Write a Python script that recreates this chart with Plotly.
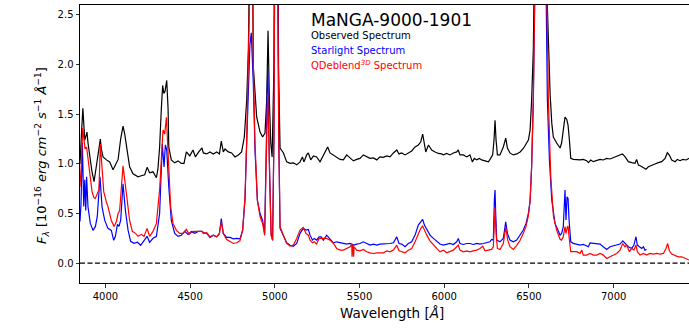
import plotly.graph_objects as go

# ---------------- data ----------------
wl_obs = [3850,3854,3860,3867,3872,3878,3885,3891,3898,3907,3920,3933,3946,3958,3970,3976,3986,4006,4025,4045,
          4059,4075,4090,4104,4114,4124,4143,4163,4193,4212,4232,4246,4261,4281,4301,4310,4320,4330,4338,4345,
          4352,4362,4370,4374,4389,4409,4429,4448,4464,4478,4498,4517,4531,4551,4570,4578,4598,4617,4637,4657,
          4673,4684,4696,4706,4726,4745,4765,4785,4804,4820,4834,4844,4853,4861,4869,4873,4893,4913,4928,4942,
          4952,4960,4968,4976,4984,4995,5007,5016,5022,5031,5051,5070,5090,5110,5129,5149,5163,5172,5188,5198,
          5212,5228,5247,5267,5287,5300,5312,5326,5346,5365,5385,5405,5424,5444,5464,5483,5503,5523,5542,5562,
          5582,5602,5621,5641,5661,5680,5700,5720,5733,5749,5769,5788,5808,5828,5847,5861,5873,5881,5891,5907,
          5926,5946,5966,5985,5995,6015,6034,6054,6074,6083,6093,6113,6133,6152,6166,6178,6192,6207,6221,6241,
          6261,6274,6286,6294,6300,6306,6314,6329,6349,6363,6373,6388,6408,6428,6448,6467,6487,6497,6507,6516,
          6526,6536,6570,6605,6615,6625,6635,6644,6664,6684,6693,6703,6713,6723,6731,6739,6747,6762,6782,6802,
          6821,6841,6851,6865,6880,6900,6920,6939,6959,6979,6998,7018,7038,7052,7067,7087,7107,7126,7136,7146,
          7160,7176,7191,7205,7225,7244,7264,7284,7304,7317,7329,7343,7363,7376,7392,7408,7428,7445]
flux_obs = [1.00,1.10,1.35,1.56,1.40,1.24,1.28,1.32,1.20,1.07,0.93,0.82,0.97,1.12,1.25,1.15,1.07,1.04,1.02,0.94,
            0.99,1.045,1.25,1.38,1.30,1.17,0.97,0.90,0.87,0.88,0.89,0.965,0.91,0.92,0.86,0.95,1.17,1.55,1.79,1.71,
            1.73,1.84,1.55,1.17,1.04,1.01,1.03,1.005,1.005,1.12,1.08,1.14,1.07,1.12,1.16,1.11,1.10,1.12,1.10,1.12,
            1.10,1.23,1.12,1.15,1.12,1.11,1.07,1.09,1.12,1.27,1.64,2.15,3.0,4.5,3.0,1.98,1.47,1.32,1.27,1.31,
            1.64,2.34,1.64,1.21,1.07,1.98,7.0,4.0,1.98,1.16,1.11,1.02,1.005,1.01,0.99,1.02,1.07,1.02,1.09,1.11,
            1.04,1.08,1.07,1.02,1.09,1.12,1.17,1.11,1.09,1.07,1.045,1.04,1.09,1.06,1.03,1.045,1.055,1.09,1.07,1.055,
            1.06,1.04,1.07,1.065,1.08,1.07,1.11,1.14,1.10,1.11,1.09,1.11,1.13,1.17,1.19,1.22,1.30,1.22,1.12,1.19,
            1.14,1.12,1.105,1.10,1.09,1.105,1.09,1.11,1.12,1.14,1.09,1.09,1.07,1.09,1.02,1.055,1.04,1.055,1.04,1.03,
            1.02,1.055,1.09,1.24,1.44,1.24,1.09,1.09,1.17,1.26,1.16,1.11,1.09,1.10,1.12,1.155,1.21,1.24,1.34,1.64,
            2.15,2.8,8.0,2.8,2.15,1.71,1.41,1.27,1.21,1.16,1.21,1.34,1.47,1.45,1.39,1.24,1.055,1.045,1.04,1.04,
            1.045,1.032,1.012,1.039,1.022,1.032,1.045,1.039,1.055,1.049,1.062,1.072,1.089,1.099,1.072,1.022,1.012,1.005,1.045,0.988,
            0.978,0.965,0.945,0.971,0.988,0.998,1.012,1.022,1.055,1.112,1.089,1.039,1.022,1.045,1.032,1.045,1.039,1.055]

wl_starlight = [3850,3856,3864,3872,3878,3884,3889,3897,3911,3927,3941,3952,3968,3980,3996,4015,4035,4049,4059,4071,
                4080,4090,4104,4118,4134,4149,4169,4189,4208,4228,4246,4261,4281,4301,4320,4336,4346,4354,4362,4374,
                4389,4409,4429,4448,4468,4488,4507,4527,4547,4570,4578,4598,4617,4637,4657,4673,4684,4696,4716,4736,
                4755,4775,4794,4810,4824,4834,4844,4853,4861,4868,4873,4883,4897,4913,4928,4940,4948,4958,4968,4978,
                4987,4995,5007,5016,5023,5031,5050,5070,5090,5109,5129,5149,5168,5184,5198,5208,5222,5233,5247,5261,
                5273,5287,5306,5316,5326,5346,5365,5385,5405,5424,5444,5460,5468,5483,5503,5523,5542,5562,5582,5602,
                5621,5641,5661,5680,5700,5720,5733,5749,5769,5788,5808,5828,5847,5861,5873,5883,5897,5916,5936,5956,
                5975,5995,6015,6034,6054,6074,6083,6093,6113,6133,6152,6172,6192,6211,6231,6251,6270,6280,6290,6296,
                6300,6304,6310,6329,6349,6363,6373,6388,6408,6428,6448,6467,6483,6497,6507,6516,6526,6536,6570,6601,
                6609,6621,6635,6654,6674,6684,6693,6703,6713,6719,6725,6731,6737,6747,6762,6782,6802,6821,6841,6851,
                6861,6880,6900,6920,6939,6959,6979,6998,7018,7038,7054,7067,7087,7107,7120,7132,7140,7152,7166,7176,
                7185,7195]
flux_starlight = [0.42,0.60,1.21,0.57,0.84,0.53,0.87,0.57,0.40,0.33,0.37,0.47,0.87,0.57,0.43,0.35,0.33,0.23,0.27,0.39,
                  0.37,0.43,0.80,0.53,0.33,0.22,0.20,0.21,0.18,0.23,0.27,0.21,0.25,0.27,0.50,1.20,0.97,1.19,1.14,0.77,
                  0.43,0.30,0.27,0.28,0.32,0.29,0.32,0.30,0.32,0.32,0.309,0.299,0.259,0.282,0.265,0.299,0.45,0.299,0.259,0.259,
                  0.245,0.249,0.245,0.33,0.635,1.21,1.81,2.2,2.32,2.0,1.81,1.14,0.635,0.50,0.43,0.30,1.0,1.95,1.0,0.30,
                  0.23,1.3,6.5,3.5,1.3,0.35,0.28,0.205,0.18,0.17,0.198,0.30,0.35,0.333,0.339,0.282,0.232,0.249,0.232,0.265,
                  0.265,0.232,0.282,0.265,0.249,0.205,0.215,0.205,0.198,0.192,0.198,0.182,0.182,0.192,0.198,0.215,0.198,0.182,0.192,0.182,
                  0.192,0.192,0.198,0.198,0.205,0.265,0.198,0.192,0.165,0.198,0.215,0.282,0.383,0.417,0.44,0.383,0.333,0.282,0.249,0.215,
                  0.192,0.182,0.192,0.198,0.188,0.215,0.249,0.198,0.188,0.198,0.198,0.188,0.198,0.191,0.198,0.205,0.215,0.238,0.232,0.635,
                  0.736,0.50,0.232,0.215,0.249,0.417,0.299,0.232,0.215,0.232,0.282,0.333,0.40,0.50,0.63,0.97,1.64,2.8,7.5,2.8,
                  1.64,1.04,0.635,0.40,0.32,0.283,0.30,0.367,0.736,0.434,0.669,0.652,0.434,0.215,0.199,0.192,0.182,0.189,0.175,0.165,
                  0.205,0.199,0.199,0.192,0.165,0.138,0.165,0.175,0.182,0.192,0.225,0.199,0.165,0.148,0.182,0.266,0.182,0.165,0.148,0.165,
                  0.131,0.138]

wl_qdeblend = [3850,3858,3866,3873,3880,3889,3898,3909,3921,3932,3940,3952,3962,3970,3978,3990,4005,4015,4035,4051,
               4065,4075,4084,4104,4124,4143,4159,4177,4193,4212,4228,4246,4261,4281,4301,4320,4340,4350,4360,4374,
               4385,4399,4419,4439,4458,4478,4494,4517,4537,4570,4578,4598,4617,4637,4657,4673,4684,4696,4716,4736,
               4755,4775,4794,4810,4824,4834,4844,4853,4861,4869,4873,4883,4897,4913,4928,4940,4948,4958,4968,4978,
               4987,4995,5007,5016,5023,5031,5050,5070,5090,5109,5129,5149,5168,5184,5198,5208,5222,5233,5247,5261,
               5273,5306,5326,5346,5365,5385,5405,5424,5444,5454,5456,5459,5463,5465,5468,5483,5503,5523,5542,5562,
               5582,5602,5621,5641,5661,5680,5700,5720,5733,5749,5769,5788,5808,5828,5847,5861,5873,5883,5897,5916,
               5936,5956,5975,5995,6015,6034,6054,6074,6083,6093,6113,6133,6152,6172,6192,6211,6227,6241,6261,6280,
               6290,6296,6300,6306,6314,6329,6349,6363,6375,6388,6408,6428,6448,6467,6483,6497,6507,6516,6526,6536,
               6570,6605,6615,6629,6645,6664,6684,6693,6703,6713,6719,6727,6731,6737,6747,6762,6782,6802,6812,6821,
               6841,6861,6880,6900,6920,6939,6959,6979,6998,7018,7038,7054,7067,7077,7093,7107,7120,7132,7140,7156,
               7176,7195,7215,7235,7254,7274,7294,7309,7319,7329,7343,7363,7382,7402,7422,7445]
flux_qdeblend = [0.77,1.0,1.36,1.25,1.15,1.17,1.05,0.90,0.72,0.66,0.65,0.70,0.74,1.20,1.0,0.72,0.62,0.57,0.43,0.37,
                 0.42,0.50,0.53,0.98,0.70,0.43,0.32,0.30,0.27,0.29,0.27,0.35,0.27,0.32,0.40,0.74,1.34,1.30,1.47,1.0,
                 0.57,0.40,0.33,0.30,0.30,0.34,0.29,0.32,0.32,0.32,0.299,0.306,0.265,0.282,0.265,0.299,0.417,0.299,0.238,0.215,
                 0.198,0.205,0.225,0.333,0.669,1.24,1.98,3.0,3.5,3.0,2.0,1.21,0.635,0.467,0.40,0.28,1.0,1.71,1.0,0.28,
                 0.23,1.3,6.0,3.5,1.3,0.366,0.282,0.198,0.171,0.181,0.249,0.333,0.36,0.299,0.282,0.232,0.205,0.215,0.192,0.249,
                 0.249,0.249,0.232,0.198,0.148,0.131,0.131,0.148,0.165,0.192,0.064,0.181,0.181,0.064,0.165,0.131,0.124,0.138,0.114,0.104,
                 0.097,0.104,0.104,0.104,0.124,0.114,0.131,0.181,0.124,0.114,0.104,0.131,0.148,0.215,0.299,0.349,0.373,0.333,0.282,0.225,
                 0.181,0.148,0.114,0.131,0.104,0.114,0.131,0.165,0.181,0.131,0.114,0.124,0.114,0.124,0.131,0.148,0.171,0.124,0.131,0.138,
                 0.165,0.467,0.56,0.30,0.148,0.138,0.198,0.36,0.232,0.165,0.138,0.18,0.23,0.30,0.37,0.48,0.63,0.97,1.64,2.8,
                 7.0,2.8,1.64,0.87,0.47,0.33,0.24,0.232,0.266,0.367,0.30,0.367,0.373,0.266,0.115,0.115,0.115,0.098,0.131,0.081,
                 0.081,0.098,0.081,0.081,0.098,0.081,0.047,0.064,0.081,0.098,0.131,0.198,0.165,0.182,0.115,0.148,0.131,0.182,0.115,0.081,
                 0.098,0.081,0.098,0.091,0.098,0.091,0.098,0.148,0.198,0.125,0.091,0.081,0.064,0.064,0.047,0.031]

x_ticks = [4000, 4500, 5000, 5500, 6000, 6500, 7000]
y_ticks = [0.0, 0.5, 1.0, 1.5, 2.0, 2.5]
x_range = [3850, 7445]
y_range = [-0.2, 2.6]

title_text = "MaNGA-9000-1901"
legend_entries = [("Observed Spectrum", "#000000"),
                  ("Starlight Spectrum", "#0000ff"),
                  ("QDeblend<sup><i>3D</i></sup> Spectrum", "#ff0000")]

# ---------------- figure ----------------
FONT = "DejaVu Sans"
fig = go.Figure()
fig.add_trace(go.Scatter(x=wl_obs, y=flux_obs, mode="lines",
                         line=dict(color="#000000", width=1.2), showlegend=False))
fig.add_trace(go.Scatter(x=wl_starlight, y=flux_starlight, mode="lines",
                         line=dict(color="#0000ff", width=1.2), showlegend=False))
fig.add_trace(go.Scatter(x=wl_qdeblend, y=flux_qdeblend, mode="lines",
                         line=dict(color="#ff0000", width=1.2), showlegend=False))

fig.add_hline(y=0, line=dict(color="#000000", width=1.3, dash="5px,2.5px"))

W, H = 689, 329
L, R, T, B = 80, 0, 5, 46
pw, ph = W - L - R, H - T - B

def px_to_paper(px, py):
    return (px - L) / pw, (H - B - py) / ph

# title & text legend
tx, ty = px_to_paper(309, 20)
fig.add_annotation(x=tx, y=ty, xref="paper", yref="paper", text=title_text, showarrow=False,
                   xanchor="left", yanchor="middle", font=dict(family=FONT, size=17, color="#000000"))
for i, (txt, col) in enumerate(legend_entries):
    lx, ly = px_to_paper(309, 36 + i * 14.3)
    fig.add_annotation(x=lx, y=ly, xref="paper", yref="paper", text=txt, showarrow=False,
                       xanchor="left", yanchor="middle", font=dict(family=FONT, size=10, color=col))

# axis titles
ylx, yly = px_to_paper(42, 156)
fig.add_annotation(x=ylx, y=yly, xref="paper", yref="paper", textangle=-90, showarrow=False,
                   text="<i>F</i><sub><i>λ</i></sub> [10<sup>−16</sup> <i>erg cm</i><sup>−2</sup> <i>s</i><sup>−1</sup> <i>Å</i><sup>−1</sup>]",
                   xanchor="center", yanchor="middle", font=dict(family=FONT, size=13, color="#000000"))
xlx, xly = px_to_paper(392, 313)
fig.add_annotation(x=xlx, y=xly, xref="paper", yref="paper", showarrow=False,
                   text="Wavelength [<i>Å</i>]",
                   xanchor="center", yanchor="middle", font=dict(family=FONT, size=13.5, color="#000000"))

fig.update_xaxes(range=x_range, tickvals=x_ticks, ticktext=[str(v) for v in x_ticks],
                 showline=True, linecolor="#000000", linewidth=1, mirror=True,
                 ticks="outside", ticklen=3.5, tickwidth=0.8, tickcolor="#000000",
                 showgrid=False, zeroline=False,
                 tickfont=dict(family=FONT, size=10, color="#000000"))
fig.update_yaxes(range=y_range, tickvals=y_ticks, ticktext=[f"{v:.1f}" for v in y_ticks],
                 showline=True, linecolor="#000000", linewidth=1, mirror=False,
                 ticks="outside", ticklen=3.5, tickwidth=0.8, tickcolor="#000000",
                 showgrid=False, zeroline=False,
                 tickfont=dict(family=FONT, size=10, color="#000000"))

fig.update_layout(width=W, height=H, margin=dict(l=L, r=R, t=T, b=B, pad=0),
                  paper_bgcolor="#ffffff", plot_bgcolor="#ffffff", showlegend=False)

fig.write_html("out.html", config={"displayModeBar": False, "staticPlot": True},
               post_script="document.body.style.margin='0';document.body.style.overflow='hidden';")
